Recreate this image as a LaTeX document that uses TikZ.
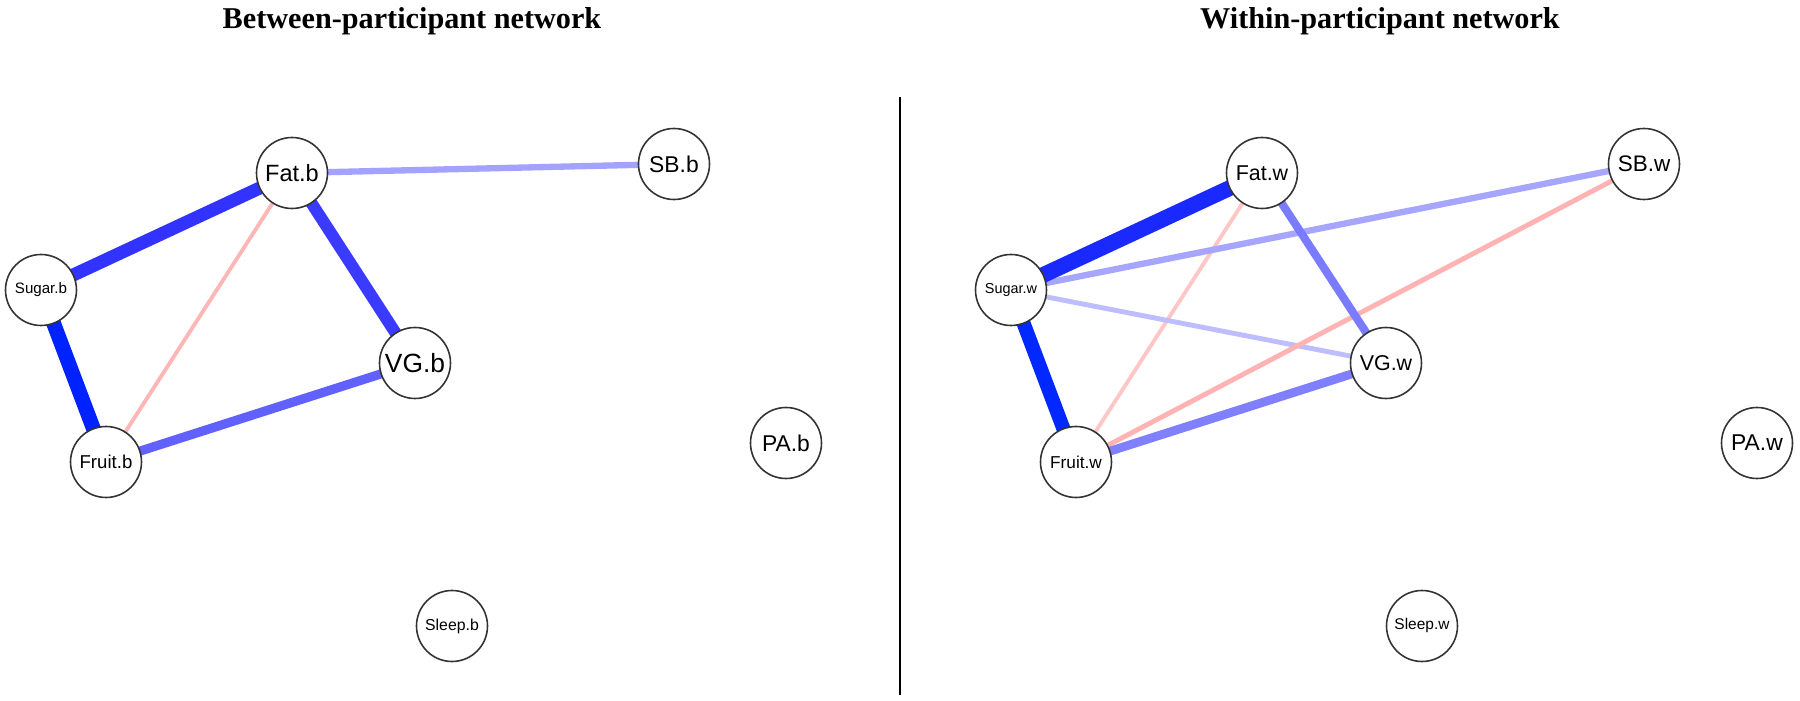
\documentclass[tikz,border=0pt]{standalone}
\usepackage{fontspec}
\setmainfont{Liberation Serif}
\setsansfont{Liberation Sans}
\usepackage{tikz}
\usetikzlibrary{
        backgrounds,
        positioning
    }
\definecolor{bluea}{RGB}{0,34,255}
\definecolor{blueb}{RGB}{51,51,255}
\definecolor{bluec}{RGB}{59,59,255}
\definecolor{blued}{RGB}{97,97,255}
\definecolor{bluee}{RGB}{163,163,255}
\definecolor{bluef}{RGB}{26,42,255}
\definecolor{blueg}{RGB}{0,40,255}
\definecolor{blueh}{RGB}{123,123,255}
\definecolor{bluei}{RGB}{128,128,255}
\definecolor{bluej}{RGB}{166,166,255}
\definecolor{bluek}{RGB}{189,189,255}
\definecolor{pinka}{RGB}{255,182,182}
\definecolor{pinkb}{RGB}{255,198,198}
\definecolor{pinkc}{RGB}{255,179,179}
\tikzset{var/.style={circle,draw=black!80,fill=white,minimum size=0.71cm,inner sep=0pt,line width=0.45pt,font=\sffamily}}
\tikzset{lbl/.style={font=\sffamily\fontsize{#1}{#1}\selectfont}}
\tikzset{title/.style={font=\bfseries\fontsize{8.6}{10}\selectfont}}

\begin{document}
\begin{tikzpicture}
                \useasboundingbox (0,0) rectangle (18,7.01);
                \node[title] (tb) at (4.12,6.80) {Between-participant network};
                \node[title] (tw) at (13.80,6.80) {Within-participant network};
                \coordinate (top) at (9,6.04);
                \coordinate (bot) at (9,0.06);
                \draw[line width=0.6pt] (top) -- (bot);
                % between
                \node[var,lbl=6.7] (fatb)   at (2.92,5.28) {Fat.b};
                \node[var,lbl=4.3] (sugarb) at (0.41,4.11) {Sugar.b};
                \node[var,lbl=5.3] (fruitb) at (1.06,2.39) {Fruit.b};
                \node[var,lbl=7.5] (vgb)    at (4.15,3.38) {VG.b};
                \node[var,lbl=6.5] (sbb)    at (6.74,5.37) {SB.b};
                \node[var,lbl=6.5] (pab)    at (7.86,2.58) {PA.b};
                \node[var,lbl=4.5] (sleepb) at (4.52,0.75) {Sleep.b};
                % within
                \node[var,lbl=6.1] (fatw)   at (12.62,5.28) {Fat.w};
                \node[var,lbl=4.1] (sugarw) at (10.11,4.11) {Sugar.w};
                \node[var,lbl=4.9] (fruitw) at (10.76,2.39) {Fruit.w};
                \node[var,lbl=6.1] (vgw)    at (13.86,3.38) {VG.w};
                \node[var,lbl=6.4] (sbw)    at (16.44,5.37) {SB.w};
                \node[var,lbl=6.5] (paw)    at (17.57,2.58) {PA.w};
                \node[var,lbl=4.4] (sleepw) at (14.22,0.75) {Sleep.w};
                \begin{scope}[on background layer]
                \draw[pinka,line width=1.1pt] (fatb.center) -- (fruitb.center);
                \draw[bluee,line width=1.8pt] (fatb.center) -- (sbb.center);
                \draw[blued,line width=2.6pt] (fruitb.center) -- (vgb.center);
                \draw[bluec,line width=3.4pt] (fatb.center) -- (vgb.center);
                \draw[blueb,line width=3.7pt] (sugarb.center) -- (fatb.center);
                \draw[bluea,line width=4.2pt] (sugarb.center) -- (fruitb.center);
                \draw[pinkb,line width=1.1pt] (fatw.center) -- (fruitw.center);
                \draw[bluek,line width=1.4pt] (sugarw.center) -- (vgw.center);
                \draw[pinkc,line width=1.4pt] (fruitw.center) -- (sbw.center);
                \draw[bluej,line width=1.8pt] (sugarw.center) -- (sbw.center);
                \draw[blueh,line width=2.3pt] (fatw.center) -- (vgw.center);
                \draw[bluei,line width=2.5pt] (fruitw.center) -- (vgw.center);
                \draw[blueg,line width=4.0pt] (sugarw.center) -- (fruitw.center);
                \draw[bluef,line width=4.5pt] (sugarw.center) -- (fatw.center);
                \end{scope}
\end{tikzpicture}
\end{document}
